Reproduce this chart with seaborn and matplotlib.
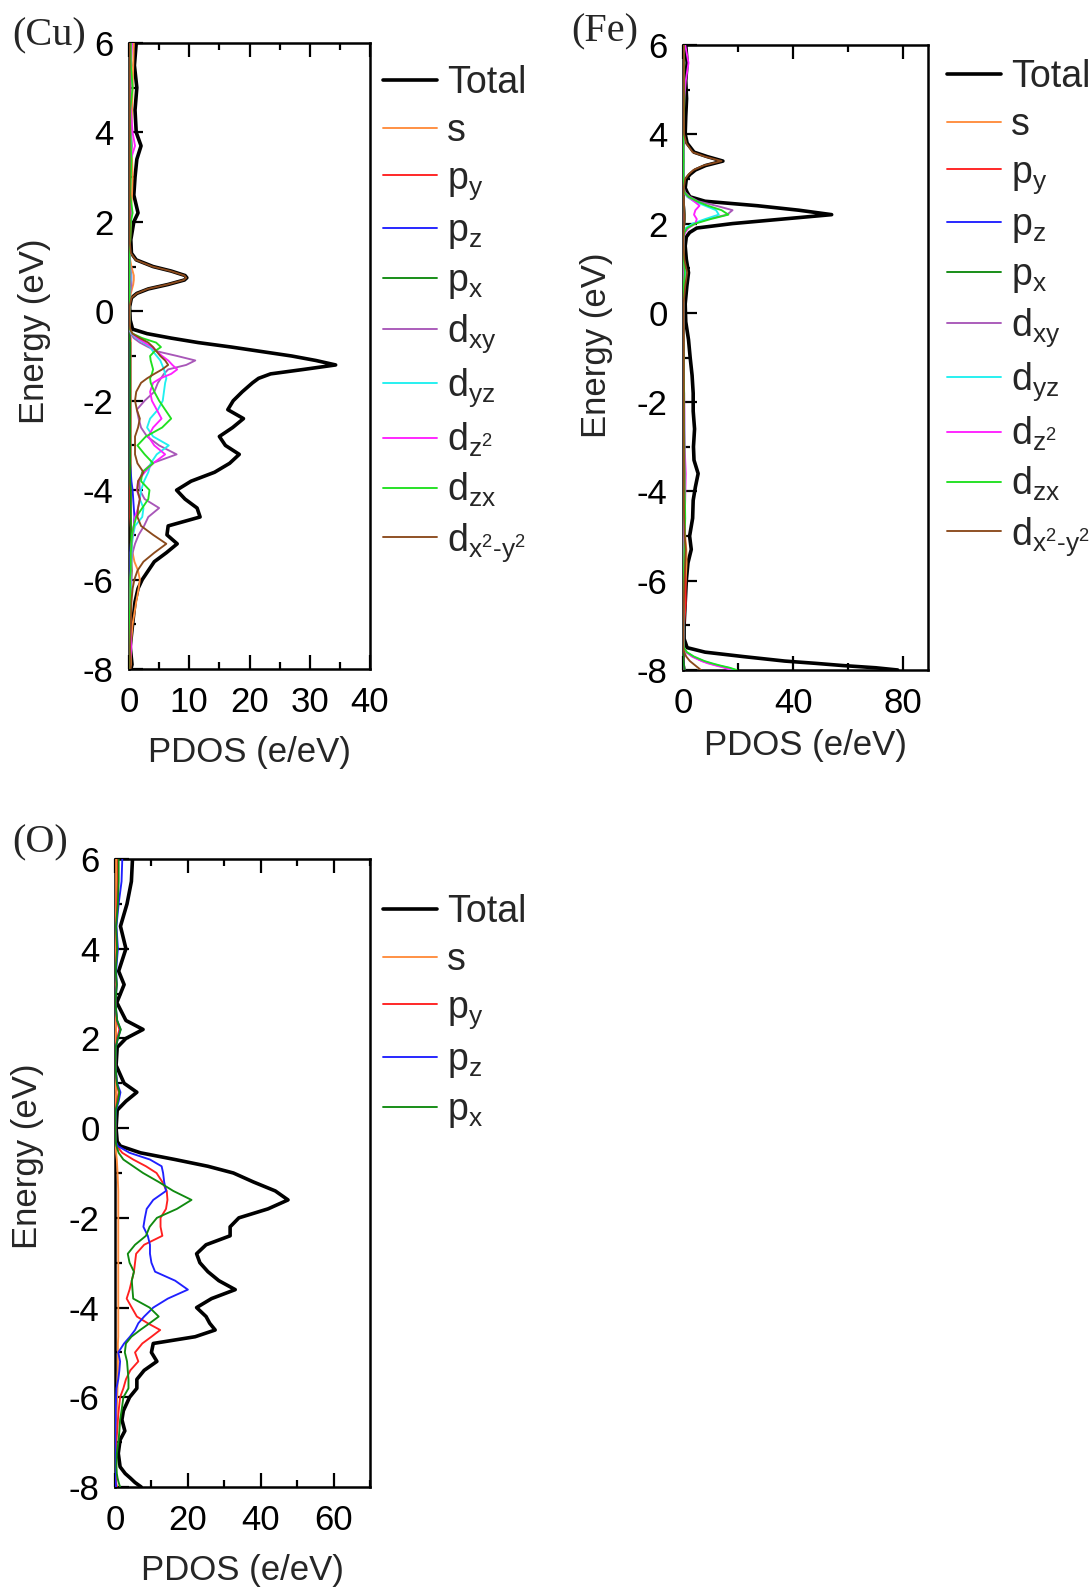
import numpy as np
import pandas as pd
import matplotlib
matplotlib.use("Agg")
import matplotlib.pyplot as plt
import seaborn as sns
from matplotlib.ticker import MultipleLocator
from matplotlib.lines import Line2D

# ---------------- Cu panel data ----------------
E_cu = [-8.0, -7.9, -7.5, -7.0, -6.5, -6.2, -6.0, -5.8, -5.6, -5.4, -5.2, -5.0,
        -4.8, -4.6, -4.4, -4.2, -4.0, -3.8, -3.6, -3.4, -3.2, -3.0, -2.8, -2.6, -2.4, -2.2, -2.0,
        -1.8, -1.6, -1.5, -1.4, -1.3, -1.2, -1.1, -1.0, -0.9, -0.8, -0.7, -0.6, -0.5, -0.4,
        -0.2, 0.1, 0.3, 0.4, 0.5, 0.6, 0.7, 0.75, 0.8, 0.9, 1.0, 1.15, 1.3,
        1.6, 2.0, 2.2, 2.6, 3.0, 3.4, 3.7, 4.0, 4.5, 5.0, 5.5, 6.0]
cu_total = [0.3, 0.5, 0.2, 0.6, 1.0, 1.5, 2.2, 3.2, 4.2, 6.2, 8.0, 6.3,
            6.5, 11.8, 11.3, 9.3, 7.9, 10.3, 14.2, 16.7, 18.3, 16.0, 15.0, 17.2, 19.0, 16.4, 17.3,
            18.8, 20.5, 21.5, 23.5, 29.0, 34.3, 31.0, 27.0, 22.0, 17.0, 11.5, 7.0, 3.0, 0.6,
            0.2, 0.1, 0.4, 1.3, 3.2, 6.5, 9.2, 9.6, 9.3, 7.0, 4.0, 1.2, 0.4,
            0.3, 0.8, 1.5, 0.8, 1.0, 1.3, 2.0, 1.2, 1.0, 1.3, 0.9, 1.2]
cu_s = [0.2, 0.3, 0.3, 0.6, 1.2, 1.6, 1.8, 1.5, 0.9, 0.6, 0.5, 0.4,
        0.3, 0.3, 0.3, 0.3, 0.3, 0.3, 0.3, 0.3, 0.3, 0.3, 0.3, 0.3, 0.3, 0.3, 0.3,
        0.3, 0.3, 0.3, 0.3, 0.3, 0.3, 0.3, 0.3, 0.3, 0.3, 0.3, 0.3, 0.2, 0.2,
        0.1, 0.1, 0.2, 0.3, 0.5, 0.7, 0.8, 0.8, 0.8, 0.6, 0.4, 0.2, 0.1,
        0.2, 0.3, 0.3, 0.5, 0.6, 0.5, 0.4, 0.4, 0.5, 0.6, 0.7, 0.8]
cu_py = [0.1, 0.1, 0.2, 0.2, 0.3, 0.4, 0.4, 0.5, 0.4, 0.3, 0.3, 0.3,
         0.3, 0.2, 0.2, 0.2, 0.2, 0.2, 0.2, 0.2, 0.2, 0.2, 0.2, 0.2, 0.2, 0.2, 0.2,
         0.2, 0.2, 0.2, 0.2, 0.2, 0.2, 0.2, 0.2, 0.2, 0.2, 0.2, 0.2, 0.1, 0.1,
         0.1, 0.1, 0.1, 0.1, 0.1, 0.1, 0.1, 0.1, 0.1, 0.1, 0.1, 0.1, 0.1,
         0.1, 0.1, 0.1, 0.2, 0.2, 0.2, 0.2, 0.2, 0.2, 0.2, 0.3, 0.3]
cu_pz = [0.1, 0.1, 0.1, 0.1, 0.2, 0.2, 0.2, 0.2, 0.2, 0.2, 0.3, 0.5,
         0.8, 0.9, 0.8, 0.7, 0.6, 0.4, 0.3, 0.2, 0.2, 0.2, 0.2, 0.2, 0.2, 0.2, 0.2,
         0.2, 0.2, 0.2, 0.2, 0.2, 0.2, 0.2, 0.2, 0.2, 0.2, 0.2, 0.1, 0.1, 0.1,
         0.1, 0.1, 0.1, 0.1, 0.1, 0.1, 0.1, 0.1, 0.1, 0.1, 0.1, 0.1, 0.1,
         0.1, 0.1, 0.1, 0.1, 0.1, 0.1, 0.1, 0.1, 0.1, 0.1, 0.1, 0.2]
cu_px = [0.1, 0.1, 0.1, 0.1, 0.2, 0.2, 0.2, 0.3, 0.3, 0.3, 0.3, 0.3,
         0.3, 0.3, 0.3, 0.3, 0.3, 0.2, 0.2, 0.2, 0.2, 0.2, 0.2, 0.2, 0.2, 0.2, 0.2,
         0.2, 0.2, 0.2, 0.2, 0.2, 0.2, 0.2, 0.2, 0.2, 0.2, 0.2, 0.1, 0.1, 0.1,
         0.1, 0.1, 0.1, 0.1, 0.1, 0.1, 0.1, 0.1, 0.1, 0.1, 0.1, 0.1, 0.1,
         0.1, 0.1, 0.2, 0.1, 0.1, 0.1, 0.1, 0.1, 0.1, 0.2, 0.2, 0.2]
cu_dxy = [0.1, 0.1, 0.1, 0.2, 0.2, 0.3, 0.3, 0.3, 0.4, 0.6, 1.0, 1.6,
          2.5, 3.2, 5.0, 2.6, 1.8, 1.7, 2.2, 3.8, 7.9, 5.0, 3.0, 2.0, 1.6, 1.3, 2.6,
          4.2, 4.8, 5.3, 5.8, 6.5, 9.5, 11.0, 8.0, 4.8, 3.2, 1.8, 0.8, 0.3, 0.1,
          0.1, 0.1, 0.1, 0.2, 0.3, 0.4, 0.4, 0.4, 0.4, 0.3, 0.2, 0.1, 0.1,
          0.1, 0.2, 0.3, 0.1, 0.1, 0.2, 0.5, 0.3, 0.2, 0.2, 0.3, 0.4]
cu_dyz = [0.1, 0.1, 0.1, 0.1, 0.2, 0.3, 0.4, 0.4, 0.4, 0.4, 0.5, 0.7,
          1.0, 2.2, 2.4, 1.8, 2.0, 2.5, 3.2, 3.6, 4.6, 6.6, 4.0, 3.0, 3.5, 4.8, 5.6,
          5.8, 6.0, 6.2, 6.0, 5.8, 5.5, 5.2, 4.6, 4.0, 3.5, 2.4, 1.2, 0.4, 0.1,
          0.1, 0.1, 0.1, 0.1, 0.2, 0.2, 0.3, 0.3, 0.3, 0.2, 0.1, 0.1, 0.1,
          0.1, 0.2, 0.2, 0.1, 0.1, 0.1, 0.3, 0.2, 0.1, 0.2, 0.2, 0.3]
cu_dz2 = [0.1, 0.1, 0.4, 0.2, 0.2, 0.2, 0.3, 0.3, 0.3, 0.3, 0.4, 0.6,
          0.8, 1.0, 1.5, 1.8, 1.3, 1.5, 2.6, 4.0, 6.0, 4.2, 3.2, 4.0, 5.4, 4.6, 3.8,
          3.5, 4.0, 5.2, 7.0, 8.0, 7.2, 6.5, 5.5, 4.6, 3.8, 2.6, 1.4, 0.5, 0.1,
          0.1, 0.1, 0.1, 0.1, 0.1, 0.2, 0.2, 0.2, 0.2, 0.1, 0.1, 0.1, 0.1,
          0.1, 0.2, 0.3, 0.1, 0.2, 0.3, 1.0, 0.6, 0.3, 0.2, 0.3, 0.5]
cu_dzx = [0.1, 0.1, 0.1, 0.1, 0.2, 0.2, 0.2, 0.3, 0.3, 0.3, 0.4, 0.5,
          0.8, 1.2, 2.2, 3.2, 3.4, 2.0, 2.2, 4.0, 2.6, 1.4, 2.8, 5.5, 7.0, 6.0, 5.0,
          4.2, 3.6, 3.5, 3.8, 4.0, 3.8, 3.6, 3.5, 4.2, 5.3, 4.5, 2.2, 0.6, 0.1,
          0.1, 0.1, 0.1, 0.1, 0.1, 0.1, 0.1, 0.1, 0.1, 0.1, 0.1, 0.1, 0.1,
          0.2, 0.3, 0.6, 0.2, 0.3, 0.4, 0.3, 0.2, 0.2, 0.6, 0.3, 0.3]
cu_dx2y2 = [0.2, 0.2, 0.2, 0.3, 0.4, 0.6, 0.9, 1.4, 2.4, 4.2, 6.2, 4.0,
            2.0, 1.4, 1.5, 1.8, 1.4, 1.5, 2.4, 1.4, 1.0, 1.0, 1.0, 1.5, 1.8, 1.3, 1.0,
            1.2, 2.0, 3.0, 4.2, 5.5, 6.5, 6.0, 5.2, 4.6, 4.0, 3.2, 1.8, 0.6, 0.2,
            0.1, 0.1, 0.4, 1.3, 3.1, 6.4, 9.1, 9.5, 9.2, 6.9, 3.9, 1.1, 0.3,
            0.1, 0.1, 0.1, 0.1, 0.1, 0.1, 0.1, 0.1, 0.1, 0.1, 0.1, 0.1]

# ---------------- Fe panel data ----------------
E_fe = [-8.0, -7.95, -7.9, -7.85, -7.8, -7.7, -7.6, -7.5, -7.3,
        -7.0, -6.5, -6.0, -5.6, -5.3, -5.0, -4.6, -4.2, -3.9, -3.6, -3.3, -3.0,
        -2.6, -2.2, -1.8, -1.4, -1.0, -0.6, -0.2, 0.2, 0.6, 0.9, 1.2, 1.5,
        1.7, 1.8, 1.9, 2.0, 2.1, 2.2, 2.3, 2.4, 2.5, 2.6, 2.7, 2.8, 3.0,
        3.1, 3.2, 3.3, 3.4, 3.5, 3.6, 3.8, 4.0, 4.4, 4.8, 5.2, 5.6, 6.0]
fe_total = [78.0, 70.0, 58.0, 48.0, 37.0, 22.0, 8.0, 1.5, 0.4,
            0.4, 0.8, 1.2, 1.8, 3.0, 2.4, 3.5, 3.7, 4.5, 5.5, 4.0, 3.8,
            4.2, 3.7, 3.7, 3.3, 2.6, 2.0, 1.0, 0.8, 1.4, 2.0, 1.2, 0.8,
            1.2, 2.4, 5.0, 18.0, 36.0, 54.0, 42.0, 27.0, 8.0, 2.5, 1.5, 0.8, 1.2,
            2.5, 4.5, 8.2, 14.5, 8.8, 4.0, 1.5, 0.8, 1.0, 1.3, 1.0, 1.5, 1.0]
fe_s = [0.5, 0.4, 0.3, 0.2, 0.2, 0.1, 0.1, 0.1, 0.1,
        0.2, 0.5, 1.0, 1.3, 1.2, 0.8, 0.5, 0.4, 0.3, 0.3, 0.3, 0.3,
        0.3, 0.3, 0.3, 0.3, 0.2, 0.2, 0.1, 0.1, 0.2, 0.3, 0.2, 0.1,
        0.1, 0.1, 0.2, 0.3, 0.3, 0.3, 0.3, 0.3, 0.2, 0.1, 0.1, 0.1, 0.1,
        0.1, 0.1, 0.1, 0.1, 0.1, 0.1, 0.1, 0.1, 0.2, 0.2, 0.2, 0.3, 0.3]
fe_py = [0.6, 0.5, 0.4, 0.3, 0.2, 0.1, 0.1, 0.1, 0.2,
         0.4, 1.0, 0.9, 0.6, 0.4, 0.3, 0.3, 0.3, 0.2, 0.2, 0.2, 0.2,
         0.2, 0.2, 0.2, 0.2, 0.2, 0.2, 0.1, 0.1, 0.1, 0.2, 0.1, 0.1,
         0.1, 0.1, 0.2, 0.3, 0.4, 0.4, 0.4, 0.3, 0.2, 0.1, 0.1, 0.1, 0.1,
         0.1, 0.1, 0.1, 0.2, 0.1, 0.1, 0.1, 0.1, 0.1, 0.1, 0.1, 0.2, 0.2]
fe_pz = [0.6, 0.5, 0.4, 0.3, 0.2, 0.1, 0.1, 0.1, 0.1,
         0.2, 0.3, 0.3, 0.3, 0.3, 0.3, 0.2, 0.2, 0.2, 0.2, 0.2, 0.2,
         0.2, 0.2, 0.2, 0.2, 0.2, 0.1, 0.1, 0.1, 0.1, 0.2, 0.1, 0.1,
         0.1, 0.2, 0.3, 0.5, 0.6, 0.6, 0.5, 0.4, 0.2, 0.1, 0.1, 0.1, 0.1,
         0.1, 0.1, 0.1, 0.2, 0.1, 0.1, 0.1, 0.1, 0.1, 0.1, 0.1, 0.2, 0.2]
fe_px = [0.6, 0.5, 0.4, 0.3, 0.2, 0.1, 0.1, 0.1, 0.1,
         0.2, 0.3, 0.4, 0.3, 0.3, 0.3, 0.3, 0.3, 0.2, 0.2, 0.2, 0.2,
         0.2, 0.2, 0.2, 0.2, 0.2, 0.1, 0.1, 0.1, 0.1, 0.2, 0.1, 0.1,
         0.1, 0.2, 0.3, 0.5, 0.6, 0.6, 0.5, 0.4, 0.2, 0.1, 0.1, 0.1, 0.1,
         0.1, 0.1, 0.1, 0.2, 0.1, 0.1, 0.1, 0.1, 0.1, 0.1, 0.1, 0.2, 0.2]
fe_dxy = [19.0, 16.0, 12.5, 9.5, 7.0, 3.5, 1.2, 0.2, 0.1,
          0.1, 0.2, 0.3, 0.3, 0.4, 0.3, 0.4, 0.4, 0.5, 0.6, 0.5, 0.4,
          0.4, 0.4, 0.4, 0.3, 0.3, 0.2, 0.1, 0.1, 0.2, 0.3, 0.2, 0.1,
          0.2, 0.5, 1.5, 4.0, 9.0, 16.0, 18.0, 12.0, 5.5, 2.5, 0.8, 0.3, 0.2,
          0.2, 0.2, 0.2, 0.3, 0.2, 0.2, 0.2, 0.2, 0.2, 0.3, 0.3, 0.4, 0.3]
fe_dyz = [19.0, 16.5, 13.0, 10.0, 7.5, 3.8, 1.3, 0.2, 0.1,
          0.1, 0.2, 0.3, 0.3, 0.4, 0.3, 0.4, 0.5, 0.5, 0.6, 0.5, 0.5,
          0.5, 0.4, 0.4, 0.3, 0.3, 0.2, 0.1, 0.1, 0.4, 0.8, 0.3, 0.1,
          0.2, 0.4, 1.0, 3.5, 8.0, 13.0, 12.0, 8.0, 4.0, 1.5, 0.4, 0.2, 0.2,
          0.2, 0.2, 0.2, 0.2, 0.2, 0.2, 0.2, 0.2, 0.2, 0.2, 0.3, 0.4, 0.3]
fe_dz2 = [17.5, 15.0, 12.0, 9.0, 6.8, 3.3, 1.1, 0.2, 0.1,
          0.1, 0.2, 0.3, 0.3, 0.4, 0.4, 0.6, 0.8, 0.9, 1.0, 0.8, 0.6,
          0.5, 0.5, 0.4, 0.3, 0.3, 0.2, 0.1, 0.1, 0.2, 0.3, 0.2, 0.1,
          0.3, 0.8, 2.0, 4.5, 5.0, 4.0, 4.5, 6.0, 4.0, 1.8, 0.5, 0.2, 0.2,
          0.2, 0.2, 0.2, 0.3, 0.2, 0.2, 0.3, 0.2, 0.3, 0.5, 1.0, 2.0, 0.8]
fe_dzx = [19.5, 17.0, 13.5, 10.5, 7.8, 4.0, 1.4, 0.3, 0.1,
          0.1, 0.2, 0.3, 0.4, 0.5, 0.6, 0.8, 0.7, 0.6, 0.6, 0.5, 0.5,
          0.4, 0.4, 0.4, 0.3, 0.3, 0.2, 0.1, 0.1, 0.3, 0.6, 0.3, 0.1,
          0.2, 0.5, 1.5, 4.5, 10.0, 16.5, 14.0, 9.0, 5.0, 2.0, 0.5, 0.2, 0.2,
          0.2, 0.2, 0.2, 0.3, 0.2, 0.2, 0.2, 0.2, 0.3, 0.5, 0.4, 0.4, 0.3]
fe_dx2y2 = [6.5, 5.5, 4.5, 3.5, 2.5, 1.2, 0.4, 0.1, 0.1,
            0.1, 0.3, 0.5, 0.8, 1.0, 0.6, 0.4, 0.3, 0.3, 0.3, 0.3, 0.3,
            0.3, 0.3, 0.3, 0.3, 0.3, 0.3, 0.2, 0.2, 0.8, 1.5, 0.5, 0.2,
            0.1, 0.2, 0.3, 0.5, 0.6, 0.6, 0.5, 0.4, 0.3, 0.2, 0.2, 0.3, 0.8,
            2.0, 3.8, 7.5, 14.0, 8.0, 3.5, 1.2, 0.4, 0.3, 0.3, 0.3, 0.3, 0.3]

# ---------------- O panel data ----------------
E_o = [-8.0, -7.9, -7.8, -7.7, -7.55, -7.25, -6.95, -6.75, -6.5, -6.3, -6.0,
       -5.8, -5.6, -5.4, -5.2, -5.0, -4.8, -4.65, -4.5, -4.35, -4.2, -4.0, -3.8, -3.6, -3.4, -3.2, -3.0,
       -2.8, -2.6, -2.4, -2.2, -2.0, -1.8, -1.6, -1.4, -1.2, -1.0, -0.85, -0.7, -0.55, -0.4, -0.3,
       0.0, 0.4, 0.6, 0.8, 1.0, 1.4, 1.8, 2.0, 2.2, 2.4, 2.8, 3.2, 3.5, 4.0, 4.5, 5.0, 5.5, 6.0]
o_total = [7.2, 5.5, 4.2, 2.8, 1.4, 0.9, 1.4, 2.7, 1.9, 2.3, 4.0,
           6.0, 6.0, 8.0, 11.5, 10.0, 10.5, 22.0, 27.5, 26.0, 25.0, 22.4, 26.5, 33.0, 28.5, 25.5, 23.3,
           22.4, 25.0, 31.6, 31.6, 34.0, 42.0, 47.5, 44.0, 38.0, 32.5, 25.5, 16.5, 7.0, 1.5, 0.6,
           0.3, 0.6, 3.0, 6.0, 2.5, 0.3, 0.6, 3.0, 7.7, 3.0, 0.5, 2.5, 1.0, 3.0, 1.5, 3.3, 4.5, 4.8]
o_s = [0.4, 0.3, 0.3, 0.2, 0.2, 0.2, 0.3, 0.4, 0.4, 0.5, 0.6,
       0.7, 0.7, 0.8, 0.8, 0.8, 0.8, 0.9, 0.9, 0.9, 0.9, 0.9, 0.9, 0.9, 0.9, 0.9, 0.9,
       0.9, 0.9, 0.9, 0.9, 0.9, 0.9, 0.9, 0.9, 0.8, 0.7, 0.6, 0.5, 0.3, 0.2, 0.1,
       0.1, 0.1, 0.2, 0.3, 0.2, 0.1, 0.1, 0.2, 0.3, 0.2, 0.1, 0.2, 0.1, 0.2, 0.2, 0.3, 0.3, 0.3]
o_py = [0.5, 0.3, 0.2, 0.2, 0.2, 0.3, 0.4, 0.6, 0.8, 1.0, 1.4,
        2.3, 3.0, 4.2, 6.4, 5.5, 7.5, 10.0, 12.4, 9.0, 6.0, 4.6, 3.2, 4.0, 4.6, 5.2, 5.5,
        5.8, 8.0, 13.0, 12.5, 12.5, 14.0, 14.4, 14.2, 13.0, 11.4, 8.5, 5.0, 2.0, 0.5, 0.2,
        0.1, 0.2, 0.6, 1.0, 0.5, 0.1, 0.2, 0.6, 1.2, 0.5, 0.1, 0.4, 0.2, 0.5, 0.3, 0.6, 0.8, 0.8]
o_pz = [0.3, 0.2, 0.1, 0.1, 0.1, 0.1, 0.1, 0.1, 0.2, 0.2, 0.3,
        0.4, 0.9, 1.2, 1.4, 0.9, 2.5, 4.1, 5.5, 6.4, 8.0, 10.5, 14.5, 20.0, 16.5, 11.0, 10.0,
        9.6, 9.6, 9.0, 7.8, 8.2, 8.7, 10.5, 14.0, 13.5, 13.2, 12.8, 9.6, 4.0, 0.8, 0.2,
        0.1, 0.3, 1.0, 1.5, 0.6, 0.1, 0.2, 0.8, 1.5, 0.6, 0.1, 0.5, 0.3, 0.8, 0.4, 1.0, 1.8, 2.0]
o_px = [1.4, 1.0, 0.7, 0.5, 0.4, 0.5, 1.0, 1.2, 1.4, 1.8, 2.3,
        3.7, 3.7, 3.5, 3.3, 2.7, 3.0, 4.5, 6.9, 9.5, 12.0, 9.5, 5.0, 4.8, 4.6, 5.2, 4.0,
        3.5, 5.5, 8.5, 9.5, 11.5, 17.0, 21.0, 16.0, 12.0, 7.7, 5.0, 2.3, 1.0, 0.4, 0.2,
        0.1, 0.2, 0.8, 1.2, 0.5, 0.1, 0.2, 0.8, 1.6, 0.6, 0.1, 0.5, 0.2, 0.6, 0.3, 0.8, 1.0, 1.0]

labels_full = ["Total", "s", r"p$_\mathregular{y}$", r"p$_\mathregular{z}$", r"p$_\mathregular{x}$",
               r"d$_\mathregular{xy}$", r"d$_\mathregular{yz}$", r"d$_\mathregular{z^2}$",
               r"d$_\mathregular{zx}$", r"d$_\mathregular{x^2\text{-}y^2}$"]
colors_full = ["#000000", "#FF8C3C", "#FF2020", "#2020FF", "#108A10",
               "#A857B8", "#20F0F0", "#FF20FF", "#20E020", "#8B4A1C"]

# ---------------- style ----------------
sns.set_theme(style="ticks")
plt.rcParams["font.family"] = ["Liberation Sans", "DejaVu Sans"]
plt.rcParams["mathtext.fontset"] = "custom"
plt.rcParams["mathtext.rm"] = "Liberation Sans"
plt.rcParams["mathtext.it"] = "Liberation Sans"
plt.rcParams["mathtext.bf"] = "Liberation Sans:bold"
plt.rcParams["axes.unicode_minus"] = False

W, H = 1092, 1587
fig = plt.figure(figsize=(W / 100, H / 100), dpi=100)


def ax_at(l, r, t, b):
    return fig.add_axes([l / W, 1 - b / H, (r - l) / W, (b - t) / H])


def panel(ax, E, series, xmax, xmaj, xmin, leg_xy, tag, tag_xy, ylab_xy, xlab_y):
    handles = []
    for i, vals in enumerate(series):
        lw = 2.6 if i == 0 else 1.35
        df = pd.DataFrame({"pdos": vals, "E": E})
        sns.lineplot(data=df, x="pdos", y="E", orient="y", sort=True, estimator=None,
                     color=colors_full[i], lw=lw, ax=ax, zorder=2 + i,
                     solid_joinstyle="round")
        handles.append(Line2D([], [], color=colors_full[i], lw=lw))
    ax.set_xlim(0, xmax)
    ax.set_ylim(-8, 6)
    ax.xaxis.set_major_locator(MultipleLocator(xmaj))
    ax.xaxis.set_minor_locator(MultipleLocator(xmin))
    ax.yaxis.set_major_locator(MultipleLocator(2))
    ax.yaxis.set_minor_locator(MultipleLocator(1))
    ax.tick_params(which="both", direction="in", top=True, right=False, width=1.6,
                   labelsize=25, colors="black")
    ax.tick_params(which="major", length=10)
    ax.tick_params(which="minor", length=5)
    ax.tick_params(axis="x", pad=12)
    ax.tick_params(axis="y", pad=11)
    for sp in ax.spines.values():
        sp.set_linewidth(1.8)
        sp.set_color("black")
    ax.set_xlabel("PDOS (e/eV)", fontsize=25)
    ax.set_ylabel("Energy (eV)", fontsize=25)
    ax.yaxis.set_label_coords(*ylab_xy)
    ax.xaxis.set_label_coords(0.5, xlab_y)
    n = len(series)
    ax.legend(handles, labels_full[:n], loc="upper left",
              bbox_to_anchor=(leg_xy[0] / W, 1 - leg_xy[1] / H),
              bbox_transform=fig.transFigure, frameon=False, fontsize=27,
              handlelength=1.45, handletextpad=0.25, labelspacing=0.31,
              borderpad=0, borderaxespad=0)
    fig.text(tag_xy[0] / W, 1 - tag_xy[1] / H, tag, fontsize=29,
             family=["Liberation Serif", "DejaVu Serif"], ha="left", va="center")


ax1 = ax_at(129, 370, 43, 669)
panel(ax1, E_cu, [cu_total, cu_s, cu_py, cu_pz, cu_px, cu_dxy, cu_dyz, cu_dz2, cu_dzx, cu_dx2y2],
      40, 10, 5, (383, 65), "(Cu)", (12, 36), (-0.324, 0.54), -0.107)

ax2 = ax_at(683, 928, 45, 670)
panel(ax2, E_fe, [fe_total, fe_s, fe_py, fe_pz, fe_px, fe_dxy, fe_dyz, fe_dz2, fe_dzx, fe_dx2y2],
      89, 40, 20, (947, 59), "(Fe)", (571, 32), (-0.286, 0.52), -0.095)

ax3 = ax_at(115, 370, 859, 1487)
panel(ax3, E_o, [o_total, o_s, o_py, o_pz, o_px],
      70, 20, 10, (383, 894), "(O)", (12, 843), (-0.278, 0.527), -0.107)

fig.savefig("out.png", dpi=100)
